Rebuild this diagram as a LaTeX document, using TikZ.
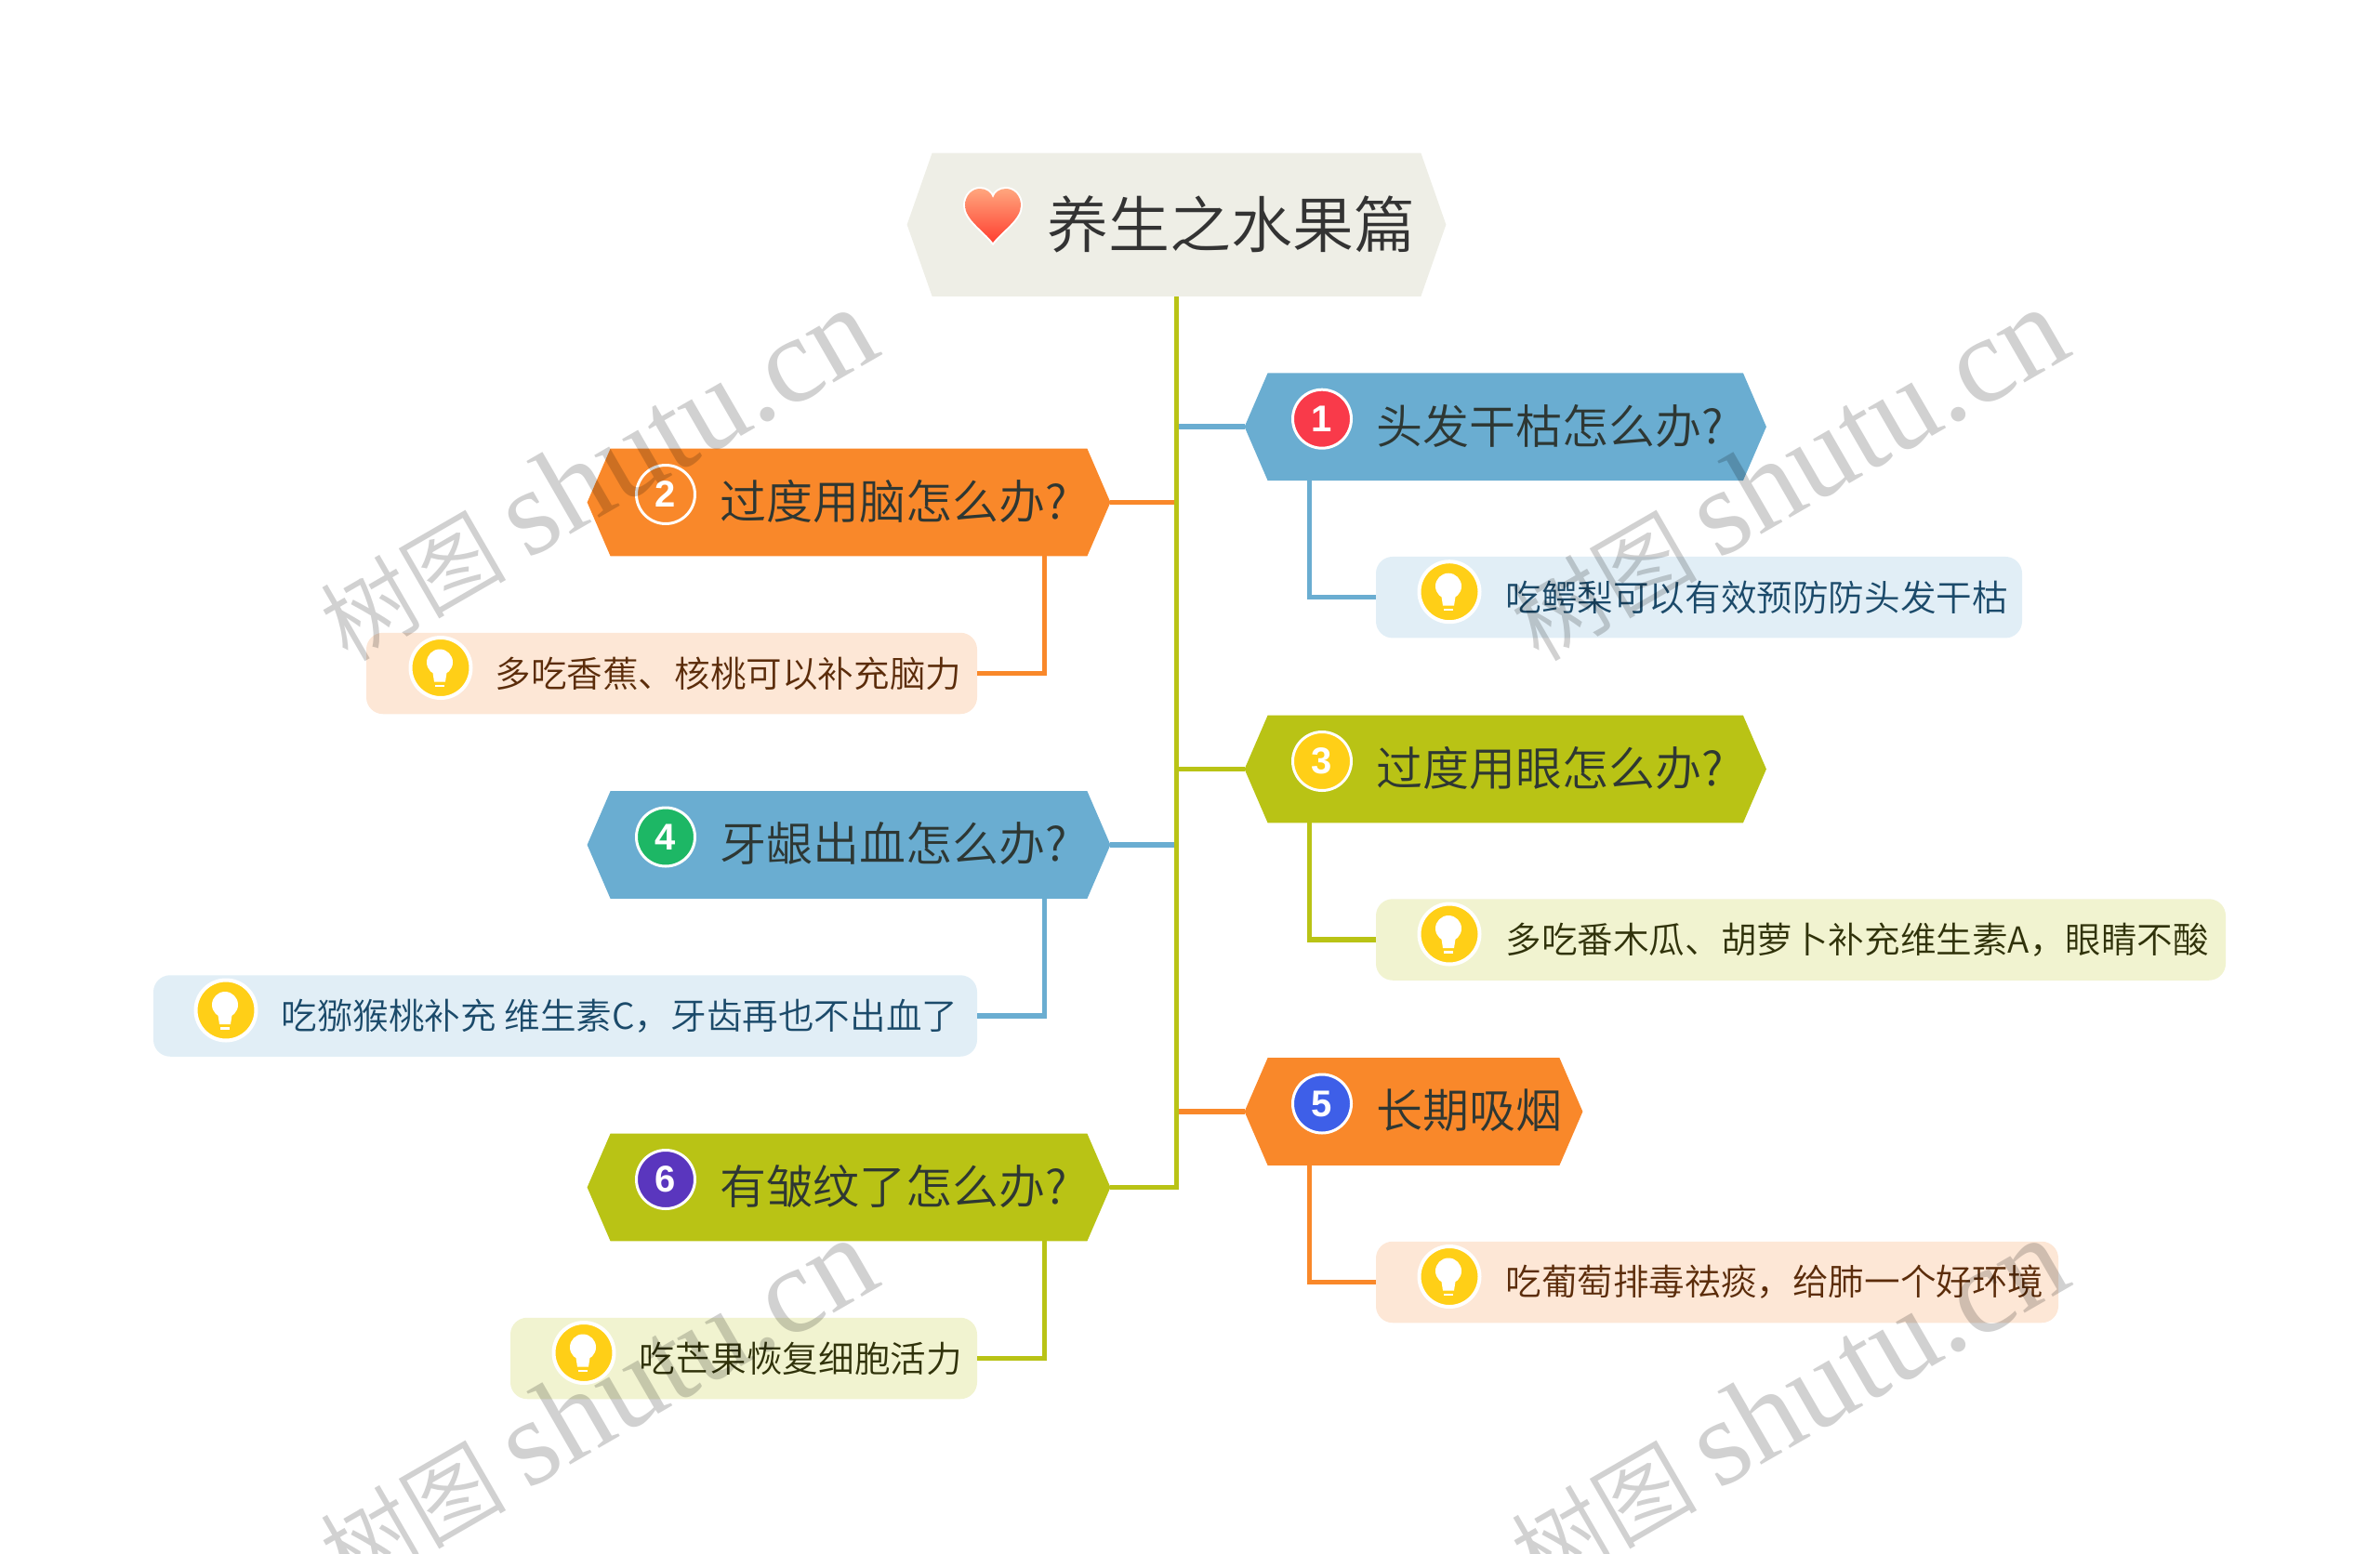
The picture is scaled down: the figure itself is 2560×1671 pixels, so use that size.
\documentclass[tikz,border=0pt]{standalone}
\usepackage{fontspec}
\setmainfont{Noto Sans CJK SC}[UprightFont={* DemiLight}]
\newfontfamily\wmfont{Liberation Serif}
\newfontfamily\digfont{Liberation Sans}
\usetikzlibrary{calc}
\definecolor{cblue}{HTML}{6AADD1}
\definecolor{corange}{HTML}{F9882A}
\definecolor{clime}{HTML}{B9C315}
\definecolor{croot}{HTML}{EEEEE6}
\definecolor{bblue}{HTML}{E1EEF6}
\definecolor{borange}{HTML}{FDE7D6}
\definecolor{blime}{HTML}{F1F3D0}
\definecolor{tblue}{HTML}{1B4A6A}
\definecolor{torange}{HTML}{5B2C0A}
\definecolor{tlime}{HTML}{30320A}
\definecolor{tmain}{HTML}{2E3733}
\definecolor{bulbc}{HTML}{FFCF17}
\definecolor{dred}{HTML}{F93A4A}
\definecolor{dgreen}{HTML}{1DB765}
\definecolor{dblue}{HTML}{3E5FE8}
\definecolor{dpurple}{HTML}{5A36BE}
\definecolor{heartt}{HTML}{FFA67E}
\definecolor{heartb}{HTML}{FF3F30}
\tikzset{
  hexbox/.style={rectangle,inner sep=0pt,minimum height=57.5pt},
  maintext/.style={anchor=west,inner sep=0pt,text=tmain,font=\fontsize{25pt}{30pt}\selectfont},
  roottext/.style={anchor=west,inner sep=0pt,text=black!80,font=\fontsize{33pt}{40pt}\selectfont},
  subbox/.style={rectangle,rounded corners=9pt,inner sep=0pt,minimum height=43.75pt},
  subtext/.style={anchor=west,inner sep=0pt,font=\fontsize{19.3pt}{23pt}\selectfont},
  conn/.style={line width=2.75pt,line join=miter},
  badge/.style={circle,draw=white,line width=1.5pt,minimum size=31.5pt,inner sep=0pt,text=white,font=\digfont\bfseries\fontsize{20pt}{20pt}\selectfont},
  bulbdisc/.style={circle,draw=white,line width=2pt,fill=bulbc,minimum size=32.5pt,inner sep=0pt},
  wmark/.style={inner sep=0pt,rotate=30,text=black,opacity=.18,text opacity=.18,font=\fontsize{50pt}{60pt}\selectfont},
}
\newcommand{\hexa}[6][25]{%
  \node[hexbox,minimum width={(#4-#3)*0.5pt}] (#2) at ({(#3+#4)/2},{#5+57.5}) {};
  \fill[#6] (#2.west) -- ($(#2.north west)+(#1,0)$) -- ($(#2.north east)+(-#1,0)$) -- (#2.east) -- ($(#2.south east)+(-#1,0)$) -- ($(#2.south west)+(#1,0)$) -- cycle;
}
\newcommand{\bulbicon}[3]{%
  \node[bulbdisc] (#1) at (#2,#3) {};
  \fill[white] ($(#1)+(-1,-6)$) circle (14);
  \fill[white] ($(#1)+(-9,2)$) -- ($(#1)+(7,2)$) -- ($(#1)+(5,15)$) -- ($(#1)+(-7,15)$) -- cycle;
  \fill[white] ($(#1)+(-6,18)$) rectangle ($(#1)+(4,20.5)$);
}
\newcommand{\wm}[3]{\node[wmark] (#1) at (#2,#3) {树图 {\wmfont\fontsize{66pt}{66pt}\selectfont shutu.cn}};}
\begin{document}
\begin{tikzpicture}[x=0.5pt,y=-0.5pt]
\useasboundingbox (0,0) rectangle (2560,1671);
\node[hexbox,minimum width=289.5pt,minimum height=76.7pt] (root) at (1265.5,241.7) {};
\hexa{n1}{1339}{1899.5}{401.7}{cblue}
\hexa{n3}{1339}{1899.5}{770}{clime}
\hexa{n5}{1339}{1702}{1138.5}{corange}
\hexa{n2}{632}{1194}{483}{corange}
\hexa{n4}{632}{1194}{851.5}{cblue}
\hexa{n6}{632}{1194}{1220}{clime}
\node[subbox,fill=bblue,minimum width=347.5pt] (c1) at ({(1480+2175)/2},642.7) {};
\node[subbox,fill=blime,minimum width=457pt] (c3) at ({(1480+2394)/2},1011) {};
\node[subbox,fill=borange,minimum width=367pt] (c5) at ({(1480+2214)/2},1379.5) {};
\node[subbox,fill=borange,minimum width=328.5pt] (c2) at ({(394+1051)/2},724.5) {};
\node[subbox,fill=bblue,minimum width=443pt] (c4) at ({(165+1051)/2},1093) {};
\node[subbox,fill=blime,minimum width=251pt] (c6) at ({(549+1051)/2},1461.5) {};
\draw[conn,cblue] (n1.west) -- (n1.west -| root.south);
\draw[conn,clime] (n3.west) -- (n3.west -| root.south);
\draw[conn,corange] (n5.west) -- (n5.west -| root.south);
\draw[conn,corange] (n2.east) -- (n2.east -| root.south);
\draw[conn,cblue] (n4.east) -- (n4.east -| root.south);
\draw[conn,clime] (root.south) -- (root.south |- n6.east) -- (n6.east);
\draw[conn,cblue] ($(n1.south west)+(70,0)$) |- (c1.west);
\draw[conn,clime] ($(n3.south west)+(70,0)$) |- (c3.west);
\draw[conn,corange] ($(n5.south west)+(70,0)$) |- (c5.west);
\draw[conn,corange] ($(n2.south east)+(-71,0)$) |- (c2.east);
\draw[conn,cblue] ($(n4.south east)+(-71,0)$) |- (c4.east);
\draw[conn,clime] ($(n6.south east)+(-71,0)$) |- (c6.east);
\fill[croot] (root.west) -- ($(root.north west)+(27,0)$) -- ($(root.north east)+(-27,0)$) -- (root.east) -- ($(root.south east)+(-27,0)$) -- ($(root.south west)+(27,0)$) -- cycle;
\begin{scope}[shift={(1068,232)}]
\draw[white,line width=2pt] (0,29) .. controls (-10,16) and (-30,4) .. (-30,-11) .. controls (-30,-22) and (-22,-29) .. (-14,-29) .. controls (-7,-29) and (-2,-25) .. (0,-19) .. controls (2,-25) and (7,-29) .. (14,-29) .. controls (22,-29) and (30,-22) .. (30,-11) .. controls (30,4) and (10,16) .. (0,29) -- cycle;
\shade[top color=heartt,bottom color=heartb] (0,29) .. controls (-10,16) and (-30,4) .. (-30,-11) .. controls (-30,-22) and (-22,-29) .. (-14,-29) .. controls (-7,-29) and (-2,-25) .. (0,-19) .. controls (2,-25) and (7,-29) .. (14,-29) .. controls (22,-29) and (30,-22) .. (30,-11) .. controls (30,4) and (10,16) .. (0,29) -- cycle;
\end{scope}
\node[roottext] (t0) at (1126,241) {养生之水果篇};
\node[badge,fill=dred] (b1) at (1422,450.7) {1};
\node[badge,fill=corange] (b2) at (716,532) {2};
\node[badge,fill=bulbc] (b3) at (1422,819) {3};
\node[badge,fill=dgreen] (b4) at (716,900.5) {4};
\node[badge,fill=dblue] (b5) at (1422,1187.5) {5};
\node[badge,fill=dpurple] (b6) at (716,1269) {6};
\node[maintext] (t1) at (1480,458) {头发干枯怎么办?};
\node[maintext] (t2) at (774,539.5) {过度用脑怎么办?};
\node[maintext] (t3) at (1480,826.5) {过度用眼怎么办?};
\node[maintext] (t4) at (774,908) {牙龈出血怎么办?};
\node[maintext] (t5) at (1480,1195) {长期吸烟};
\node[maintext] (t6) at (774,1276.5) {有皱纹了怎么办?};
\bulbicon{i1}{1559}{636.7}
\bulbicon{i3}{1559}{1005}
\bulbicon{i5}{1559}{1373.5}
\bulbicon{i2}{474}{718.5}
\bulbicon{i4}{243}{1087}
\bulbicon{i6}{628}{1455.5}
\node[subtext,text=tblue] (s1) at (1619,642.7) {吃鳄梨可以有效预防防头发干枯};
\node[subtext,text=tlime] (s3) at (1619,1011) {多吃番木瓜、胡萝卜补充维生素A，眼睛不酸};
\node[subtext,text=torange] (s5) at (1619,1379.5) {吃葡萄排毒祛痰，给肺一个好环境};
\node[subtext,text=torange] (s2) at (532,724.5) {多吃香蕉、核桃可以补充脑力};
\node[subtext,text=tblue] (s4) at (302,1093) {吃猕猴桃补充 维生素C，牙齿再也不出血了};
\node[subtext,text=tlime] (s6) at (687,1461.5) {吃芒果恢复细胞活力};
\wm{w1}{642}{511}
\wm{w2}{1923}{511}
\wm{w3}{642}{1512}
\wm{w4}{1923}{1512}
\end{tikzpicture}
\end{document}
